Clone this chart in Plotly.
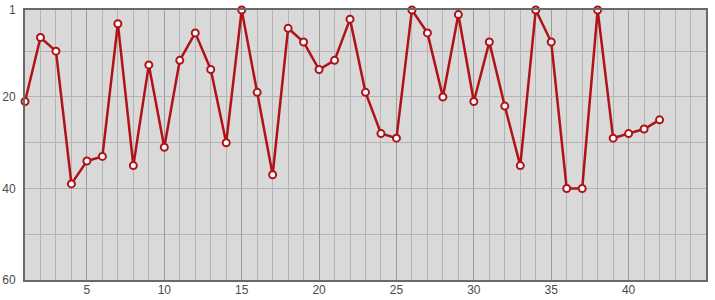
import plotly.graph_objects as go

x_vals = list(range(1, 43))
y_vals = [21, 7, 10, 39, 34, 33, 4, 35, 13, 31,
          12, 6, 14, 30, 1, 19, 37, 5, 8, 14,
          12, 3, 19, 28, 29, 1, 6, 20, 2, 21,
          8, 22, 35, 1, 8, 40, 40, 1, 29, 28,
          27, 25]
x_ticks = [5, 10, 15, 20, 25, 30, 35, 40]
y_ticks = [1, 20, 40, 60]

fig = go.Figure()
fig.add_trace(go.Scatter(
    x=x_vals, y=y_vals, mode="lines+markers",
    line=dict(color="#b01218", width=2.5),
    marker=dict(size=7, color="white", line=dict(color="#b01218", width=2)),
    cliponaxis=False, showlegend=False,
))

fig.update_layout(
    width=715, height=300,
    margin=dict(l=25, r=9, t=10, b=20),
    paper_bgcolor="white", plot_bgcolor="#d9d9d9",
    font=dict(family="Liberation Sans", size=12, color="#4a4a4a"),
    xaxis=dict(
        range=[1, 45], tickmode="array", tickvals=x_ticks, automargin=False,
        showgrid=True, gridcolor="#9a9a9a", gridwidth=1,
        minor=dict(dtick=1, tick0=0, showgrid=True, gridcolor="#b4b4b4", gridwidth=1),
        showline=True, linecolor="#6a6a6a", linewidth=2, mirror=True,
        zeroline=False, ticks="", ticklen=0, ticklabelstandoff=-2,
    ),
    yaxis=dict(
        range=[60, 1], tickmode="array", tickvals=y_ticks, automargin=False,
        showgrid=True, gridcolor="#b4b4b4", gridwidth=1,
        minor=dict(dtick=10, tick0=0, showgrid=True, gridcolor="#b4b4b4", gridwidth=1),
        showline=True, linecolor="#6a6a6a", linewidth=2, mirror=True,
        zeroline=False, ticks="", ticklen=0, ticklabelstandoff=5,
    ),
)

fig.write_html("out.html")
